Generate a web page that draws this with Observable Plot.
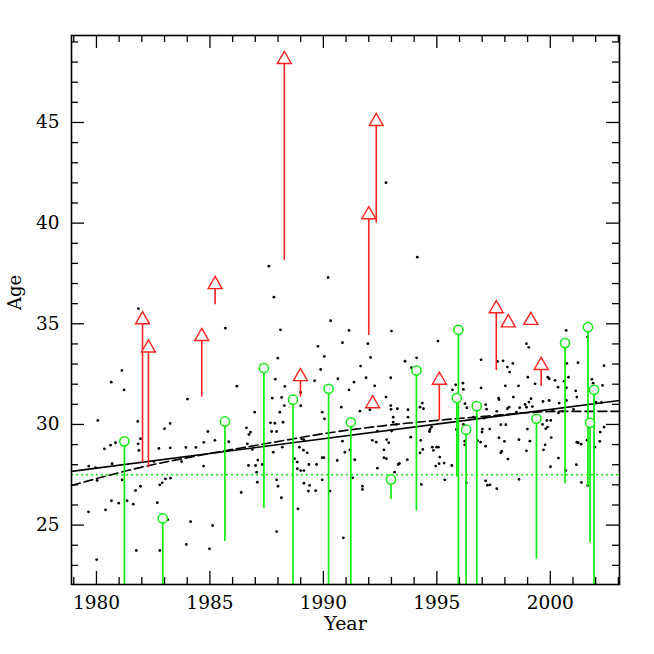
<!DOCTYPE html>
<html>
<head>
<meta charset="utf-8">
<script src="https://cdn.jsdelivr.net/npm/d3@7"></script>
<script src="https://cdn.jsdelivr.net/npm/@observablehq/plot@0.6"></script>
<style>
  html, body { margin: 0; padding: 0; background: white; }
</style>
</head>
<body>
<div id="chart"></div>
<script>
// ---------- data ----------
const xMajor = [1980, 1985, 1990, 1995, 2000];
const xMinor = [1979, 1981, 1982, 1983, 1984, 1986, 1987, 1988, 1989, 1991, 1992, 1993, 1994, 1996, 1997, 1998, 1999, 2001, 2002, 2003];
const yMajor = [25, 30, 35, 40, 45];
const yMinor = [23, 24, 26, 27, 28, 29, 31, 32, 33, 34, 36, 37, 38, 39, 41, 42, 43, 44, 46, 47, 48, 49];

// black points: [year, age]
const dots = [
  [1987.60,37.86],[1992.76,42.01],[1990.21,37.30],[1994.14,38.31],
  [1981.85,35.75],[1985.68,34.78],[1981.12,32.68],[1980.65,32.10],[1981.22,31.72],[1984.01,31.26],[1986.19,31.90],[1980.06,30.20],[1981.82,30.15],[1983.00,29.79],[1983.25,30.05],[1986.61,29.83],
  [1979.66,27.93],[1979.96,27.86],[1980.35,28.79],[1980.62,28.97],[1980.69,28.05],[1980.84,29.09],[1980.03,27.22],[1981.13,27.25],[1979.65,25.66],[1980.40,25.76],[1980.66,26.21],[1980.98,26.09],[1981.35,26.21],[1981.62,26.04],[1980.01,23.29],[1981.76,23.74],[1981.72,26.72],[1981.94,26.93],[1981.87,28.71],[1981.94,29.29],[1981.84,29.04],[1982.53,28.16],[1982.75,28.81],[1983.25,28.84],[1982.68,26.11],[1982.79,27.00],[1982.90,27.10],[1983.04,27.30],[1983.26,27.33],[1983.14,25.27],[1982.79,23.74],[1983.75,28.16],[1983.94,28.86],[1984.15,25.17],[1983.96,24.04],[1984.38,28.86],[1984.72,27.93],[1984.73,29.11],[1984.91,29.65],[1984.98,23.82],[1985.12,24.98],[1985.22,29.21],[1985.83,29.14],[1986.38,26.62],[1986.72,29.50],[1986.65,29.04],[1986.70,27.96],
  [1987.82,36.32],[1990.32,35.15],[1988.11,34.70],[1991.13,34.67],[1993.00,34.64],[1995.05,34.14],[1989.76,33.88],[1990.84,34.06],[1991.96,34.01],[1987.99,33.29],[1990.04,33.38],[1992.08,33.33],[1993.60,33.14],[1994.11,33.31],[1991.64,32.90],[1989.88,32.73],[1993.88,32.82],[1987.88,32.25],[1989.61,32.17],[1990.64,32.27],[1991.35,32.10],[1991.88,32.32],[1992.97,32.32],[1988.30,31.89],[1991.13,31.72],[1992.26,31.92],[1987.75,31.31],[1988.16,31.34],[1989.00,31.59],[1992.76,31.36],[1988.28,30.94],[1989.00,30.93],[1990.79,30.86],[1991.61,30.66],[1992.05,30.73],[1992.97,30.94],[1992.98,30.75],[1993.26,30.78],[1993.73,30.73],[1994.26,30.86],[1994.36,31.06],[1994.41,30.78],[1986.97,30.61],[1988.08,30.61],[1989.95,30.61],[1990.05,30.28],[1987.67,30.08],[1987.86,30.06],[1988.22,30.11],[1993.08,30.36],[1993.08,30.11],[1993.22,30.00],[1993.73,30.36],[1994.77,29.87],
  [1987.72,29.65],[1987.94,29.65],[1986.79,29.62],[1986.87,28.76],[1987.11,28.23],[1987.01,27.96],[1987.31,28.01],[1987.06,27.63],[1987.09,27.13],[1987.79,28.62],[1988.19,28.87],[1987.94,27.25],[1988.00,26.93],[1988.15,26.36],[1987.94,24.68],[1988.73,28.30],[1988.85,28.13],[1988.94,28.87],[1989.12,28.72],[1989.14,29.24],[1989.04,29.29],[1989.29,28.59],[1988.85,27.80],[1989.00,27.71],[1989.14,27.71],[1989.36,28.01],[1989.70,28.01],[1989.14,27.08],[1989.39,26.97],[1989.34,26.69],[1989.66,26.71],[1988.88,25.81],[1989.95,28.35],[1990.02,28.35],[1989.95,27.25],[1990.29,26.69],[1990.61,28.21],[1990.84,29.17],[1990.95,28.62],[1991.17,28.74],[1991.38,28.25],[1991.29,27.35],[1990.88,24.37],[1991.72,26.93],[1991.72,26.77],[1992.16,29.21],[1992.33,29.12],[1992.38,29.67],[1992.67,28.74],[1992.67,28.35],[1992.78,28.30],[1992.79,29.25],[1992.88,29.09],[1993.01,29.67],[1992.38,27.83],[1993.14,27.63],[1993.30,28.01],[1993.35,28.06],[1992.89,27.10],[1993.70,28.25],[1993.85,29.37],[1994.29,29.21],[1994.38,28.76],[1994.26,28.59],[1994.70,29.75],[1994.68,29.65],[1994.80,28.87],[1994.85,28.71],[1994.99,28.87],[1994.95,27.93],[1995.10,28.05],[1994.32,27.02],
  [1996.95,33.21],[1997.67,33.13],[1997.92,33.16],[1998.11,32.85],[1998.21,32.60],[1998.35,33.03],[1998.95,34.01],[1999.05,33.83],[1999.59,33.21],[2000.70,34.67],[2000.73,33.03],[2001.22,33.07],[2001.64,34.34],[2002.37,32.92],[2002.30,31.94],[1999.01,32.35],[1999.33,32.02],[1999.89,32.35],[1999.95,32.27],[2000.21,32.19],[2000.80,32.35],[2000.61,32.15],[2000.71,31.82],[2000.34,31.85],[1998.02,31.92],[1998.60,31.92],[1996.95,31.82],[1996.15,32.05],[1996.17,31.74],[1995.83,31.97],[1995.69,31.72],[1995.83,31.36],[1998.37,31.36],[1997.72,31.31],[1997.74,31.24],[1999.15,31.28],[1999.06,31.11],[1998.89,30.99],[1998.65,30.83],[1999.21,30.89],[1998.95,30.86],[1999.68,31.14],[1999.95,31.19],[2000.39,31.06],[2000.71,31.19],[2001.12,31.67],[2001.17,31.36],[2001.83,32.24],[2001.89,32.05],[2002.01,31.11],[2002.26,31.09],[1996.24,31.03],[1996.32,30.83],[1997.15,30.98],[1997.19,30.76],[1996.67,30.86],[1998.18,30.86],[1998.11,30.78],[1996.61,30.36],[1997.08,30.31],[1997.64,30.65],[1998.51,30.61],[2000.10,30.70],[2000.54,30.66],[2001.02,30.75],[2000.36,30.58],[1996.17,30.00],[1997.01,29.77],[1997.33,29.77],[1997.82,29.99],[1998.04,29.99],[1998.99,29.77],[1999.85,30.20],[2000.02,30.20],[1999.66,30.00],[1999.88,29.87],[2002.37,29.87],
  [1995.86,29.75],[1995.07,28.87],[1995.13,28.38],[1995.32,28.08],[1995.66,27.96],[1995.35,27.25],[1996.23,29.17],[1996.23,28.99],[1996.30,27.10],[1996.79,29.19],[1996.93,29.12],[1996.99,29.62],[1997.15,28.92],[1997.74,29.34],[1997.98,29.16],[1997.82,28.59],[1997.86,28.67],[1998.13,28.28],[1997.15,27.20],[1997.23,26.98],[1997.34,27.00],[1997.64,26.81],[1998.62,29.24],[1998.95,28.69],[1999.10,29.17],[1998.62,27.27],[1999.70,28.74],[1999.77,28.99],[1999.80,29.79],[2000.04,29.35],[2000.36,28.33],[2000.01,27.90],[2000.68,27.71],[2001.17,29.12],[2001.23,29.09],[2001.36,29.02],[2001.15,28.00],[2001.37,27.12],[2001.62,29.22],[2001.65,26.97],[2001.96,28.87],[2002.18,29.16],[2002.20,29.62],[2001.68,29.84]
];

// red lower limits: [year, from, to]
const redArrows = [
  [1982.03, 28.10, 35.20], [1982.29, 27.85, 33.80], [1984.64, 31.36, 34.37], [1985.23, 35.95, 36.95],
  [1988.28, 38.15, 48.13], [1988.99, 31.36, 32.38], [1992.00, 34.42, 40.42], [1992.33, 40.00, 45.05],
  [1992.17, 31.03, 31.03], [1995.11, 30.20, 32.20], [1997.62, 32.68, 35.75], [1998.15, 35.05, 35.05],
  [1999.14, 35.17, 35.17], [1999.60, 31.89, 32.93]
];

// green points with downward ranges: [year, value, low]
const greenBars = [
  [1981.23, 29.16, 20], [1982.92, 25.33, 20], [1985.66, 30.15, 24.19], [1987.38, 32.80, 25.84],
  [1988.66, 31.23, 20], [1990.23, 31.77, 20], [1991.21, 30.11, 20], [1992.98, 27.27, 26.27],
  [1994.10, 32.68, 25.70], [1995.95, 34.70, 20], [1995.88, 31.31, 27.38], [1996.29, 29.74, 20],
  [1996.76, 30.91, 20], [1999.39, 30.28, 23.30], [2000.65, 34.04, 27.05], [2001.66, 34.83, 26.90],
  [2001.75, 30.08, 24.12], [2001.93, 31.72, 20]
];

// fit lines
const solidFit = [[1978.9, 27.67], [2003.05, 31.19]];
const dashedFit = [[1978.9, 26.97], [1982.0, 27.88], [1985.2, 28.60], [1988.0, 29.15], [1990.0, 29.54], [1993.0, 29.98], [1995.5, 30.25], [1997.3, 30.42], [1999.0, 30.58], [2000.2, 30.65], [2003.05, 30.65]];
const greenLevel = [27.5];

const xLabel = "Year";
const yLabel = "Age";

// ---------- chart ----------
const W = 654, H = 654;
const mL = 71, mR = 35, mT = 35, mB = 70;
const innerW = W - mL - mR, innerH = H - mT - mB;
const majorLen = 13, minorLen = 7;
const GREEN = "#10ee10", RED = "#ff2020";

const chart = Plot.plot({
  width: W, height: H,
  marginLeft: mL, marginRight: mR, marginTop: mT, marginBottom: mB,
  style: {fontFamily: "'DejaVu Serif', serif", fontSize: "18.5px", background: "white", color: "black"},
  x: {domain: [1978.9, 2003.05], label: null},
  y: {domain: [22.05, 49.32], label: null},
  marks: [
    // ticks (inward) on all four sides
    Plot.ruleX(xMajor, {x: d => d, insetTop: innerH - majorLen, stroke: "black", strokeWidth: 1.3}),
    Plot.ruleX(xMajor, {x: d => d, insetBottom: innerH - majorLen, stroke: "black", strokeWidth: 1.3}),
    Plot.ruleX(xMinor, {x: d => d, insetTop: innerH - minorLen, stroke: "black", strokeWidth: 1.3}),
    Plot.ruleX(xMinor, {x: d => d, insetBottom: innerH - minorLen, stroke: "black", strokeWidth: 1.3}),
    Plot.ruleY(yMajor, {y: d => d, insetRight: innerW - majorLen, stroke: "black", strokeWidth: 1.3}),
    Plot.ruleY(yMajor, {y: d => d, insetLeft: innerW - majorLen, stroke: "black", strokeWidth: 1.3}),
    Plot.ruleY(yMinor, {y: d => d, insetRight: innerW - minorLen, stroke: "black", strokeWidth: 1.3}),
    Plot.ruleY(yMinor, {y: d => d, insetLeft: innerW - minorLen, stroke: "black", strokeWidth: 1.3}),
    Plot.axisX({ticks: xMajor, tickSize: 0, tickPadding: 11, tickFormat: d => String(d), fontSize: 18.5}),
    Plot.axisY({ticks: yMajor, tickSize: 0, tickPadding: 12, tickFormat: d => String(d), fontSize: 18.5}),
    // black points
    Plot.dot(dots, {x: d => d[0], y: d => d[1], r: 1.4, fill: "black", stroke: null}),
    // horizontal green dotted level
    Plot.ruleY(greenLevel, {stroke: GREEN, strokeWidth: 1.4, strokeDasharray: "2,3"}),
    // fits
    Plot.line(solidFit, {x: d => d[0], y: d => d[1], stroke: "black", strokeWidth: 1.6}),
    Plot.line(dashedFit, {x: d => d[0], y: d => d[1], stroke: "black", strokeWidth: 1.6, strokeDasharray: "9,4", curve: "monotone-x"}),
    // green ranges
    Plot.ruleX(greenBars, {x: d => d[0], y1: d => d[2], y2: d => d[1], stroke: GREEN, strokeWidth: 1.7, clip: true}),
    Plot.dot(greenBars, {x: d => d[0], y: d => d[1], r: 4.6, stroke: GREEN, strokeWidth: 1.5, fill: "white"}),
    // red lower limits
    Plot.ruleX(redArrows, {x: d => d[0], y1: d => d[1], y2: d => d[2], stroke: RED, strokeWidth: 1.6}),
    Plot.dot(redArrows, {x: d => d[0], y: d => d[2], symbol: "triangle", r: 5.2, stroke: RED, strokeWidth: 1.4, fill: "white"}),
    // frame
    Plot.frame({stroke: "black", strokeWidth: 1.6}),
    // axis titles
    Plot.text([xLabel], {frameAnchor: "bottom", dy: 45, text: d => d, fontSize: 19, fill: "black"}),
    Plot.text([yLabel], {frameAnchor: "left", dx: -56, rotate: -90, text: d => d, fontSize: 18, fill: "black"})
  ]
});
document.getElementById("chart").appendChild(chart);
</script>
</body>
</html>
